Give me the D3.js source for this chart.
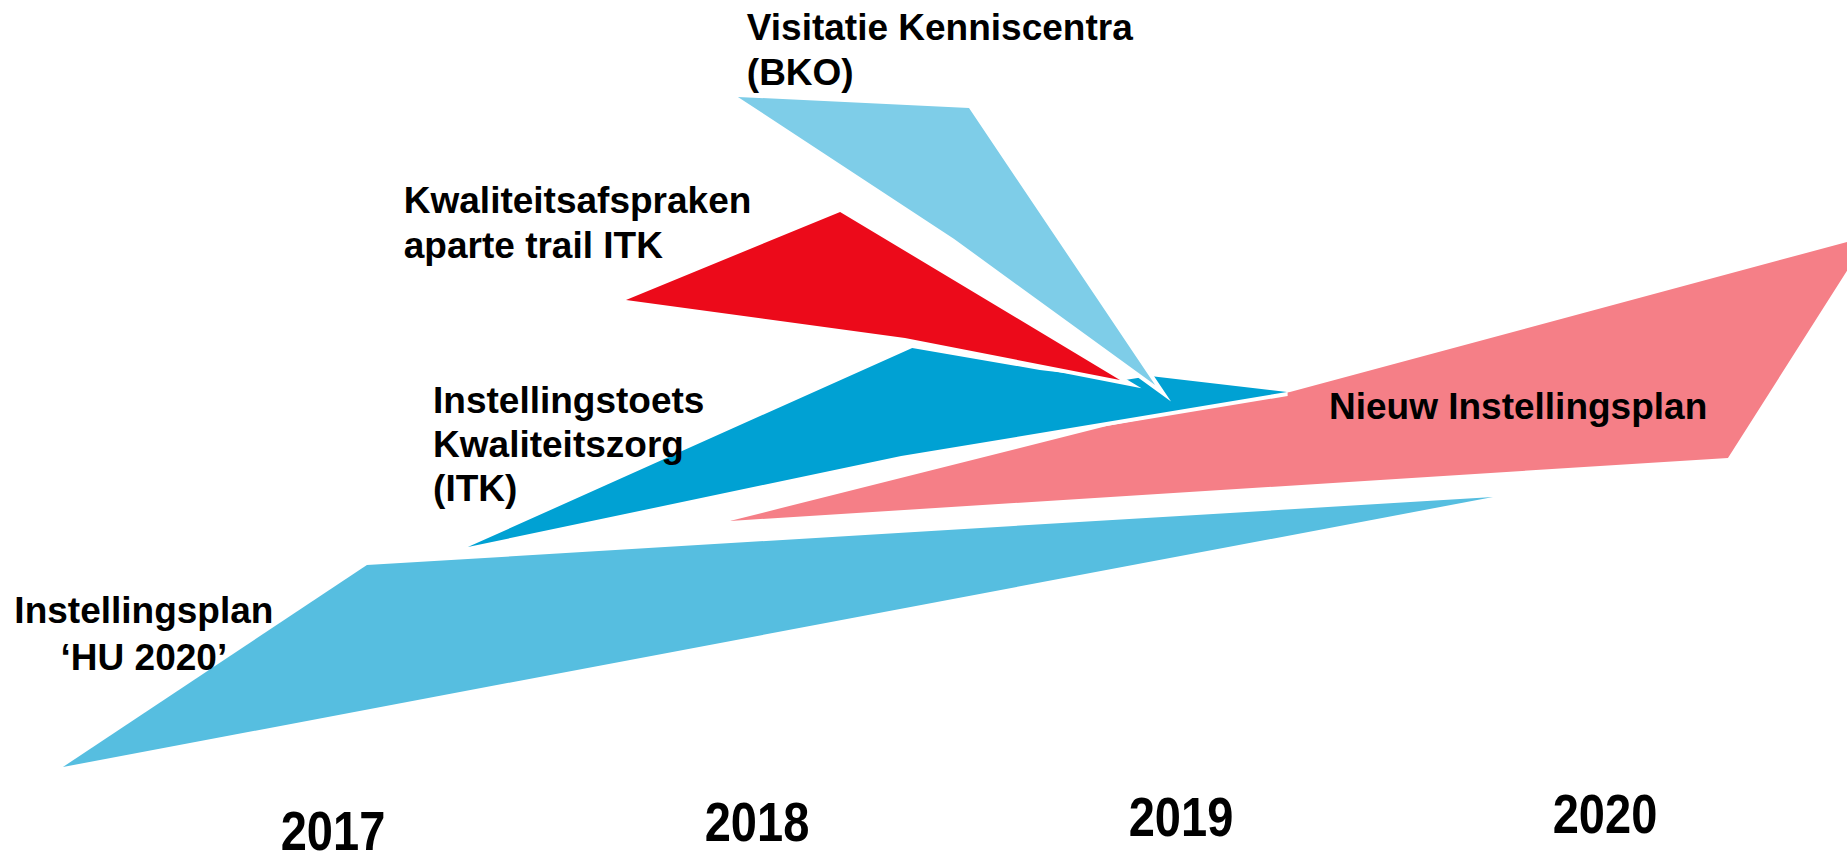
<!DOCTYPE html>
<html>
<head>
<meta charset="utf-8">
<script src="https://cdn.jsdelivr.net/npm/d3@7"></script>
<style>
  html, body { margin: 0; padding: 0; background: #ffffff; overflow: hidden; }
  svg { display: block; }
  text { font-family: "Liberation Sans", Arial, sans-serif; font-weight: bold; fill: #000; }
</style>
</head>
<body>
<svg id="chart"></svg>
<script>
// ---------- data (x in years, y in relative "level" 0..100) ----------
const years = [2017, 2018, 2019, 2020];

const huPlanYears  = [2016.363, 2017.080, 2019.736];
const huPlanLevels = [11.02, 34.45, 42.34];

const nieuwPlanYears  = [2017.936, 2018.825, 2019.257, 2020.623, 2020.290];
const nieuwPlanLevels = [39.56, 50.58, 54.52, 72.62, 46.87];

const itkYears  = [2017.318, 2018.366, 2018.667, 2018.868, 2018.927, 2019.250, 2018.340];
const itkLevels = [36.54, 59.63, 57.08, 55.92, 56.38, 54.52, 47.10];

const kwaliteitYears  = [2017.691, 2018.196, 2018.856, 2018.349];
const kwaliteitLevels = [65.20, 75.41, 55.92, 60.79];

const bkoYears  = [2017.955, 2018.500, 2018.939, 2018.465];
const bkoLevels = [88.75, 87.47, 55.34, 72.27];

const huPlanLabel     = ["Instellingsplan", "\u2018HU 2020\u2019"];
const nieuwPlanLabel  = ["Nieuw Instellingsplan"];
const itkLabel        = ["Instellingstoets", "Kwaliteitszorg", "(ITK)"];
const kwaliteitLabel  = ["Kwaliteitsafspraken", "aparte trail ITK"];
const bkoLabel        = ["Visitatie Kenniscentra", "(BKO)"];

// ---------- layout ----------
const W = 1847, H = 862;
const svg = d3.select("#chart").attr("width", W).attr("height", H);

const x = d3.scaleLinear().domain([2017, 2020]).range([333, 1605]);
const y = d3.scaleLinear().domain([0, 100]).range([862, 0]);

const line = d3.line().x(d => x(d[0])).y(d => y(d[1])).curve(d3.curveLinearClosed);
const zip = (a, b) => a.map((v, i) => [v, b[i]]);

const shapes = [
  { pts: zip(huPlanYears, huPlanLevels),       fill: "#56BEE0", stroke: false },
  { pts: zip(nieuwPlanYears, nieuwPlanLevels), fill: "#F57F87", stroke: false },
  { pts: zip(itkYears, itkLevels),             fill: "#00A1D3", stroke: true },
  { pts: zip(kwaliteitYears, kwaliteitLevels), fill: "#EC0A1A", stroke: true },
  { pts: zip(bkoYears, bkoLevels),             fill: "#7ECDE8", stroke: true }
];

svg.append("g").selectAll("path")
  .data(shapes)
  .join("path")
  .attr("d", d => line(d.pts))
  .attr("fill", d => d.fill)
  .attr("stroke", d => d.stroke ? "#ffffff" : "none")
  .attr("stroke-width", 8)
  .attr("stroke-linejoin", "miter")
  .attr("stroke-miterlimit", 6)
  .style("paint-order", "stroke");

// labels: anchor (year, level), anchor mode, line spacing in px
const labels = [
  { lines: bkoLabel,       ax: 2017.976, ay: (862 - 40) / 8.62,  anchor: "start",  lh: 45 },
  { lines: kwaliteitLabel, ax: 2017.167, ay: (862 - 213) / 8.62, anchor: "start",  lh: 45 },
  { lines: itkLabel,       ax: 2017.236, ay: (862 - 413) / 8.62, anchor: "start",  lh: 44 },
  { lines: huPlanLabel,    ax: 2016.554, ay: (862 - 623) / 8.62, anchor: "middle", lh: 47 },
  { lines: nieuwPlanLabel, ax: 2019.349, ay: (862 - 419) / 8.62, anchor: "start",  lh: 45 }
];

const lg = svg.append("g");
labels.forEach(l => {
  const t = lg.append("text")
    .attr("x", x(l.ax))
    .attr("y", y(l.ay))
    .attr("text-anchor", l.anchor)
    .style("font-size", "37px");
  l.lines.forEach((s, i) => {
    t.append("tspan").attr("x", x(l.ax)).attr("dy", i === 0 ? 0 : l.lh).text(s);
  });
});

// year axis labels (condensed bold)
const yearBaselineLevels = [1.39, 2.44, 3.02, 3.36];
svg.append("g").selectAll("text")
  .data(years)
  .join("text")
  .attr("transform", (d, i) => `translate(${x(d)},${y(yearBaselineLevels[i])}) scale(0.84,1)`)
  .attr("text-anchor", "middle")
  .style("font-size", "56px")
  .text(d => d);
</script>
</body>
</html>
